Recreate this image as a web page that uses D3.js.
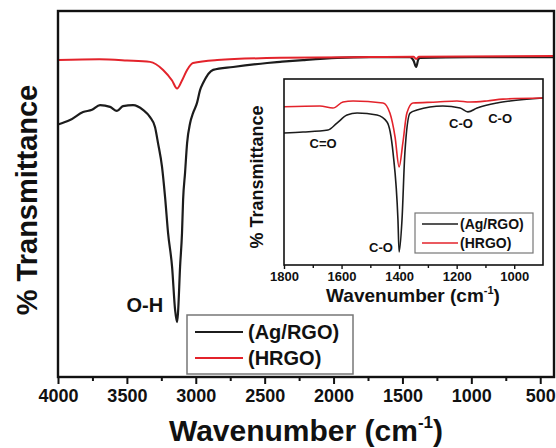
<!DOCTYPE html>
<html>
<head>
<meta charset="utf-8">
<script src="https://cdn.jsdelivr.net/npm/d3@7"></script>
<style>
  html, body { margin: 0; padding: 0; background: #fff; }
  svg { display: block; font-family: "Liberation Sans", Arial, sans-serif; font-weight: bold; }
</style>
</head>
<body>
<svg id="chart" width="556" height="448"></svg>
<script>
// FTIR spectra: wavenumber (cm^-1) vs. relative transmittance (arb. units)
const seriesNames = ["(Ag/RGO)", "(HRGO)"];
const seriesColors = ["#1c1c1c", "#e3232b"];

// Full range spectra
const agRgoFull = [
  [4000, 69.0], [3913, 70.2], [3818, 72.4], [3753, 73.0], [3695, 74.3], [3622, 73.8],
  [3572, 72.7], [3528, 74.0], [3455, 74.3], [3383, 73.0], [3332, 71.0], [3296, 68.3],
  [3274, 63.9], [3245, 57.4], [3223, 49.2], [3201, 39.3], [3172, 30.1], [3150, 18.3],
  [3136, 15.0], [3129, 17.5], [3114, 30.1], [3100, 39.3], [3092, 48.4], [3078, 55.7],
  [3063, 63.9], [3041, 69.4], [3020, 72.1], [2991, 74.9], [2969, 78.4], [2947, 80.3],
  [2874, 83.9], [2729, 84.7], [2482, 85.8], [2388, 86.1], [2221, 86.6], [1974, 87.2],
  [1734, 87.4], [1444, 87.4], [1420, 86.5], [1400, 84.7], [1385, 86.8], [1371, 87.2],
  [1000, 87.4], [400, 87.4]
];
const hrgoFull = [
  [4000, 86.6], [3700, 86.8], [3500, 86.5], [3332, 86.1], [3237, 83.9], [3172, 81.0],
  [3136, 78.8], [3100, 81.0], [3063, 83.9], [3020, 85.8], [2845, 86.6], [2388, 87.2],
  [1734, 87.4], [1420, 87.5], [1400, 86.9], [1380, 87.5], [400, 87.7]
];

// Fingerprint region (inset)
const agRgoInset = [
  [1800, 71.0], [1734, 71.5], [1647, 72.6], [1616, 76.3], [1581, 80.6], [1546, 81.7],
  [1477, 80.6], [1442, 76.9], [1421, 60.2], [1404, 24.2], [1400, 7.0], [1390, 24.2],
  [1380, 60.2], [1362, 81.7], [1338, 83.3], [1248, 85.5], [1188, 84.4], [1161, 82.3],
  [1129, 84.4], [1060, 87.1], [1015, 88.2], [900, 89.8]
];
const hrgoInset = [
  [1800, 85.1], [1675, 85.5], [1630, 84.4], [1595, 87.6], [1560, 88.2], [1456, 87.1],
  [1432, 81.7], [1414, 68.8], [1400, 52.7], [1387, 65.6], [1373, 81.7], [1352, 87.1],
  [1268, 87.6], [1199, 88.2], [1154, 87.6], [1095, 88.2], [1039, 89.2], [900, 89.8]
];

const mainTicks = [4000, 3500, 3000, 2500, 2000, 1500, 1000, 500];
const mainMinorTicks = [3750, 3250, 2750, 2250, 1750, 1250, 750];
const insetTicks = [1800, 1600, 1400, 1200, 1000];
const insetMinorTicks = [1700, 1500, 1300, 1100];

// Band assignments: [label, wavenumber, transmittance, anchor]
const mainBands = [["O-H", 3237, 17.8, "end"]];
const insetBands = [
  ["C=O", 1664, 62.9, "middle"],
  ["C-O", 1463, 7.0, "middle"],
  ["C-O", 1185, 73.7, "middle"],
  ["C-O", 1049, 76.3, "middle"]
];

const svg = d3.select("#chart");

// ---------- main panel ----------
const M = { left: 58, right: 554, top: 11, bottom: 377 };
const x = d3.scaleLinear().domain([4000, 400]).range([M.left, M.right]);
const y = d3.scaleLinear().domain([0, 100]).range([M.bottom, M.top]);

const line = d3.line().x(d => x(d[0])).y(d => y(d[1])).curve(d3.curveMonotoneX);

const main = svg.append("g");
main.append("path").datum(agRgoFull).attr("d", line)
  .attr("fill", "none").attr("stroke", seriesColors[0]).attr("stroke-width", 2.2)
  .attr("stroke-linejoin", "round");
main.append("path").datum(hrgoFull).attr("d", line)
  .attr("fill", "none").attr("stroke", seriesColors[1]).attr("stroke-width", 2)
  .attr("stroke-linejoin", "round");

// frame
main.append("rect").attr("x", M.left).attr("y", M.top)
  .attr("width", M.right - M.left).attr("height", M.bottom - M.top)
  .attr("fill", "none").attr("stroke", "#111").attr("stroke-width", 2.4);

// x axis
const xAxis = d3.axisBottom(x).tickValues(mainTicks).tickSize(7).tickPadding(5).tickFormat(d3.format("d"));
const gx = main.append("g").attr("transform", `translate(0,${M.bottom})`).call(xAxis);
gx.select(".domain").remove();
gx.selectAll(".tick line").attr("stroke", "#111").attr("stroke-width", 2);
gx.selectAll(".tick text").attr("font-size", 18).attr("font-weight", "bold")
  .attr("font-family", "'Liberation Sans', Arial, sans-serif").attr("fill", "#111");
const gxm = main.append("g").attr("transform", `translate(0,${M.bottom})`)
  .call(d3.axisBottom(x).tickValues(mainMinorTicks).tickSize(4).tickFormat(""));
gxm.select(".domain").remove();
gxm.selectAll(".tick line").attr("stroke", "#111").attr("stroke-width", 2);

// axis titles
const xt = main.append("text").attr("x", 306).attr("y", 441).attr("text-anchor", "middle")
  .attr("font-size", 30).attr("fill", "#111");
xt.append("tspan").text("Wavenumber (cm");
xt.append("tspan").attr("font-size", 17).attr("dy", -13).text("-1");
xt.append("tspan").attr("dy", 13).text(")");

main.append("text").attr("transform", "translate(37,200) rotate(-90)")
  .attr("text-anchor", "middle").attr("font-size", 29).attr("fill", "#111")
  .text("% Transmittance");

// band labels
main.selectAll("text.band").data(mainBands).join("text").attr("class", "band")
  .attr("x", d => x(d[1])).attr("y", d => y(d[2])).attr("text-anchor", d => d[3])
  .attr("font-size", 20).attr("fill", "#111").text(d => d[0]);

// legend
const lg = main.append("g");
lg.append("rect").attr("x", 187).attr("y", 315).attr("width", 166).attr("height", 59)
  .attr("fill", "#fff").attr("stroke", "#777").attr("stroke-width", 1.5);
seriesNames.forEach((name, i) => {
  const yy = 332 + i * 26;
  lg.append("line").attr("x1", 195).attr("x2", 243).attr("y1", yy).attr("y2", yy)
    .attr("stroke", seriesColors[i]).attr("stroke-width", 2);
  lg.append("text").attr("x", 248).attr("y", yy + 7).attr("font-size", 20)
    .attr("fill", "#111").text(name);
});

// ---------- inset panel ----------
const I = { left: 284, right: 543, top: 79, bottom: 265 };
const xi = d3.scaleLinear().domain([1800, 900]).range([I.left, I.right]);
const yi = d3.scaleLinear().domain([0, 100]).range([I.bottom, I.top]);
const lineI = d3.line().x(d => xi(d[0])).y(d => yi(d[1])).curve(d3.curveMonotoneX);

const inset = svg.append("g");
inset.append("rect").attr("x", I.left).attr("y", I.top)
  .attr("width", I.right - I.left).attr("height", I.bottom - I.top).attr("fill", "#fff");
inset.append("path").datum(agRgoInset).attr("d", lineI)
  .attr("fill", "none").attr("stroke", seriesColors[0]).attr("stroke-width", 1.6)
  .attr("stroke-linejoin", "round");
inset.append("path").datum(hrgoInset).attr("d", lineI)
  .attr("fill", "none").attr("stroke", seriesColors[1]).attr("stroke-width", 1.6)
  .attr("stroke-linejoin", "round");
inset.append("rect").attr("x", I.left).attr("y", I.top)
  .attr("width", I.right - I.left).attr("height", I.bottom - I.top)
  .attr("fill", "none").attr("stroke", "#111").attr("stroke-width", 1.6);

const gxi = inset.append("g").attr("transform", `translate(0,${I.bottom})`)
  .call(d3.axisBottom(xi).tickValues(insetTicks).tickSize(4).tickPadding(3).tickFormat(d3.format("d")));
gxi.select(".domain").remove();
gxi.selectAll(".tick line").attr("stroke", "#111").attr("stroke-width", 1.4);
gxi.selectAll(".tick text").attr("font-size", 13).attr("font-weight", "bold")
  .attr("font-family", "'Liberation Sans', Arial, sans-serif").attr("fill", "#111");
const gxim = inset.append("g").attr("transform", `translate(0,${I.bottom})`)
  .call(d3.axisBottom(xi).tickValues(insetMinorTicks).tickSize(3).tickFormat(""));
gxim.select(".domain").remove();
gxim.selectAll(".tick line").attr("stroke", "#111").attr("stroke-width", 1.4);

const xti = inset.append("text").attr("x", 413).attr("y", 302).attr("text-anchor", "middle")
  .attr("font-size", 19).attr("fill", "#111");
xti.append("tspan").text("Wavenumber (cm");
xti.append("tspan").attr("font-size", 11).attr("dy", -8).text("-1");
xti.append("tspan").attr("dy", 8).text(")");

inset.append("text").attr("transform", "translate(263,177) rotate(-90)")
  .attr("text-anchor", "middle").attr("font-size", 18).attr("fill", "#111")
  .text("% Transmittance");

inset.selectAll("text.band").data(insetBands).join("text").attr("class", "band")
  .attr("x", d => xi(d[1])).attr("y", d => yi(d[2])).attr("text-anchor", d => d[3])
  .attr("font-size", 13).attr("fill", "#111").text(d => d[0]);

const lgi = inset.append("g");
lgi.append("rect").attr("x", 415).attr("y", 213).attr("width", 118).attr("height", 40)
  .attr("fill", "#fff").attr("stroke", "#777").attr("stroke-width", 1.2);
seriesNames.forEach((name, i) => {
  const yy = 224 + i * 19;
  lgi.append("line").attr("x1", 422).attr("x2", 458).attr("y1", yy).attr("y2", yy)
    .attr("stroke", seriesColors[i]).attr("stroke-width", 1.6);
  lgi.append("text").attr("x", 460).attr("y", yy + 5).attr("font-size", 14)
    .attr("fill", "#111").text(name);
});
</script>
</body>
</html>
